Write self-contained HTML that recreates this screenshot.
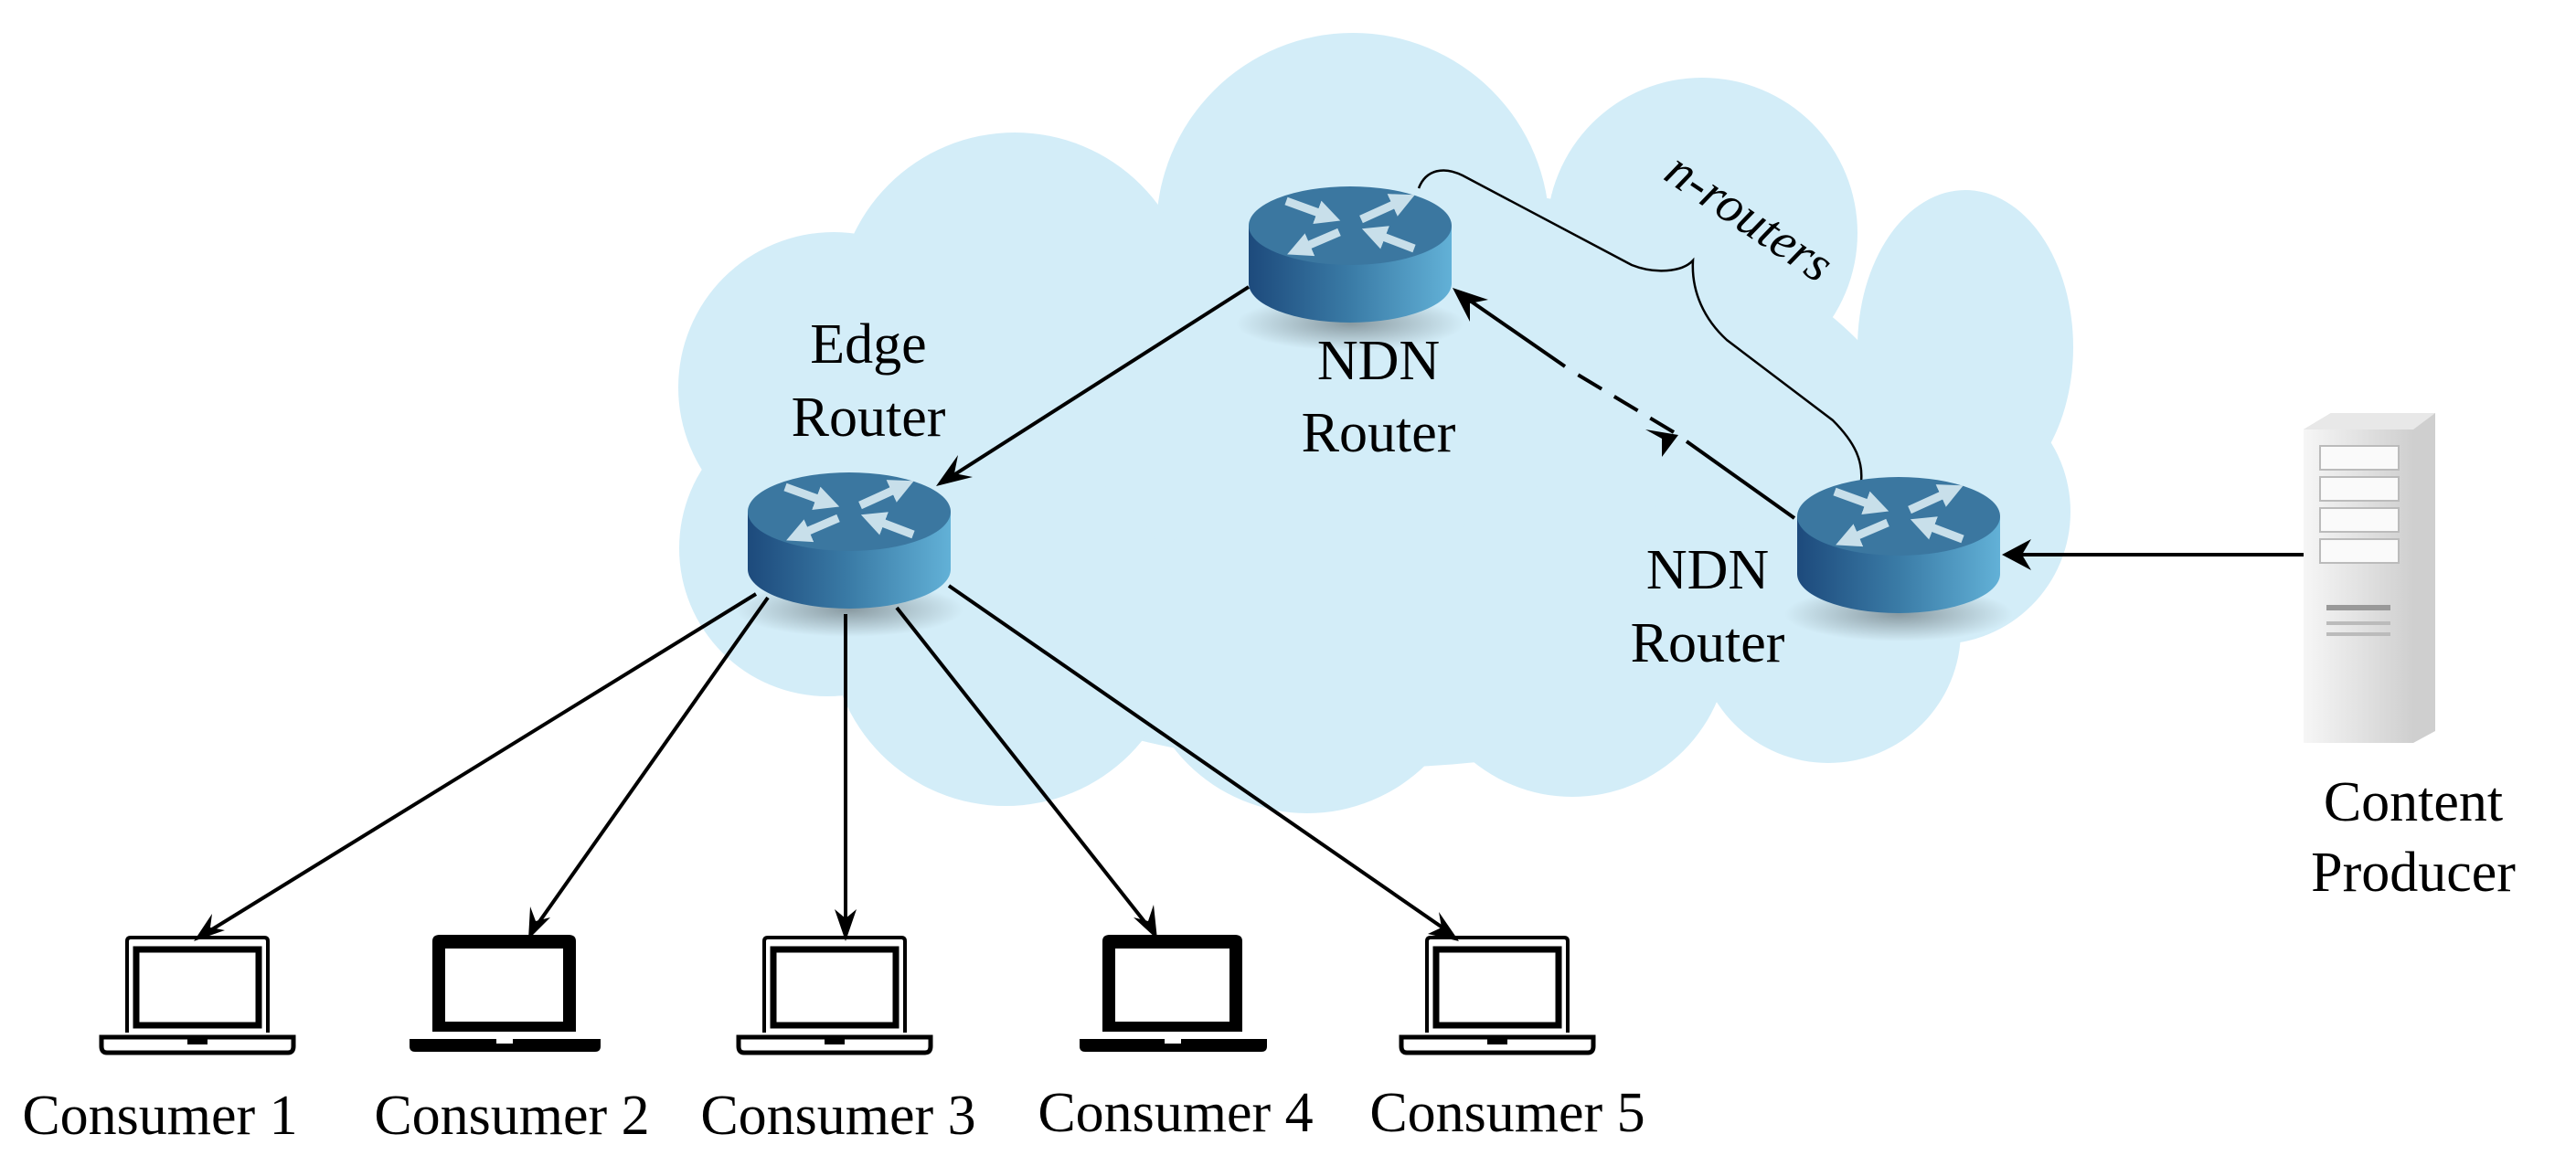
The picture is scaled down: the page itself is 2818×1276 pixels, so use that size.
<!DOCTYPE html>
<html><head><meta charset="utf-8"><style>
html,body{margin:0;padding:0;background:#fff}
svg{display:block}
text{font-family:"Liberation Serif",serif;font-size:62px;fill:#000}
</style></head><body>
<svg width="2818" height="1276" viewBox="0 0 2818 1276" xmlns="http://www.w3.org/2000/svg">
<defs>
<linearGradient id="cyl" x1="0" x2="1" y1="0" y2="0">
<stop offset="0" stop-color="#1d4a7c"/><stop offset="0.5" stop-color="#3a7ba6"/><stop offset="1" stop-color="#62b1d7"/>
</linearGradient>
<linearGradient id="srv" x1="0" x2="1"><stop offset="0" stop-color="#f6f6f6"/><stop offset="1" stop-color="#cfcfcf"/></linearGradient>
<radialGradient id="sh"><stop offset="0" stop-color="#000" stop-opacity="0.35"/><stop offset="1" stop-color="#000" stop-opacity="0"/></radialGradient>
<marker id="rh" markerWidth="3" markerHeight="3" refX="1.2" refY="1.5" orient="auto" markerUnits="strokeWidth" viewBox="0 0 3 3">
<path d="M0 0 L3 1.5 L0 3Z" fill="#c8dfea"/>
</marker>
<g id="router">
<ellipse cx="0" cy="80" rx="125" ry="30" fill="url(#sh)"/>
<path d="M-111 -27 L-111 36 A111 43 0 0 0 111 36 L111 -27 Z" fill="url(#cyl)"/>
<ellipse cx="0" cy="-27" rx="111" ry="43" fill="#3b77a0"/>
<g stroke="#c8dfea" stroke-width="9" marker-end="url(#rh)">
<line x1="-70" y1="-54" x2="-26" y2="-38"/>
<line x1="12" y1="-34" x2="56" y2="-54"/>
<line x1="-12" y1="-20" x2="-54" y2="-2"/>
<line x1="70" y1="-2" x2="28" y2="-18"/>
</g>
</g>
</defs>

<!-- cloud -->
<g fill="#d3edf8">
<ellipse cx="1500" cy="520" rx="600" ry="320"/>
<circle cx="1480" cy="251" r="215"/>
<circle cx="1862" cy="255" r="170"/>
<ellipse cx="2150" cy="380" rx="118" ry="172"/>
<circle cx="2120" cy="560" r="145"/>
<circle cx="2000" cy="690" r="145"/>
<circle cx="1720" cy="700" r="172"/>
<circle cx="1430" cy="705" r="185"/>
<circle cx="1100" cy="690" r="192"/>
<circle cx="905" cy="600" r="162"/>
<circle cx="912" cy="424" r="170"/>
<circle cx="1110" cy="340" r="195"/>
</g>

<!-- connectors -->
<g stroke="#000" stroke-width="4" fill="none">
<line x1="1366" y1="314" x2="1040" y2="522"/>
<line x1="1963" y1="567" x2="1845" y2="483"/>
<line x1="1831" y1="473" x2="1716" y2="404" stroke-dasharray="30,16"/>
<line x1="1712" y1="401" x2="1598" y2="322"/>
<line x1="2520" y1="607" x2="2200" y2="607"/>
<line x1="827" y1="650" x2="224" y2="1022"/>
<line x1="840" y1="654" x2="582" y2="1020"/>
<line x1="925" y1="672" x2="925" y2="1022"/>
<line x1="981" y1="665" x2="1261" y2="1020"/>
<line x1="1038" y1="641" x2="1588" y2="1022"/>
</g>
<g fill="#000">
<polygon points="1024,532 1048,498 1044,518 1064,522"/>
<polygon points="1589,315 1628,328 1608,332 1608,352"/>
<polygon points="1836,476 1800,470 1818,480 1818,500"/>
<polygon points="2190,607 2222,590 2212,607 2222,624"/>
<polygon points="212,1030 232,1000 230,1015 246,1018"/>
<polygon points="578,1028 580,992 586,1008 602,1004"/>
<polygon points="925,1030 913,995 925,1005 937,995"/>
<polygon points="1266,1028 1240,1004 1256,1008 1262,990"/>
<polygon points="1596,1030 1562,1022 1577,1015 1574,998"/>
</g>

<!-- brace -->
<path d="M1552 206 C1560 185 1580 182 1600 192 L1785 290 C1810 300 1840 298 1852 285 C1850 320 1865 350 1889 372 L2005 460 C2030 485 2038 505 2036 527" stroke="#000" stroke-width="2.5" fill="none"/>
<text x="0" y="0" transform="translate(1818,195) rotate(34)" font-style="italic" style="font-size:56px">n-routers</text>

<!-- routers -->
<use href="#router" x="929" y="587"/>
<use href="#router" x="1477" y="274"/>
<use href="#router" x="2077" y="592"/>

<!-- server -->
<g>
<path d="M2520 470 L2550 452 L2664 452 L2664 800 L2640 813 L2520 813 Z" fill="#cfcfcf"/>
<rect x="2520" y="470" width="120" height="343" fill="url(#srv)"/>
<path d="M2520 470 L2550 452 L2664 452 L2640 470 Z" fill="#e8e8e8"/>
<g fill="#fafafa" stroke="#bbb" stroke-width="2">
<rect x="2538" y="488" width="86" height="26"/><rect x="2538" y="522" width="86" height="26"/>
<rect x="2538" y="556" width="86" height="26"/><rect x="2538" y="590" width="86" height="26"/>
</g>
<rect x="2545" y="662" width="70" height="6" fill="#999"/>
<rect x="2545" y="680" width="70" height="4" fill="#bbb"/>
<rect x="2545" y="692" width="70" height="4" fill="#bbb"/>
</g>

<!-- laptops -->
<g stroke="#000" fill="none" stroke-width="4">
<g transform="translate(139,0)">
<path d="M0 1130 V1030 Q0 1026 4 1026 H150 Q154 1026 154 1030 V1130"/>
<rect x="10" y="1039" width="134" height="83" stroke-width="7"/>
<path d="M-28 1135 H182 V1145 Q182 1152 176 1152 H-22 Q-28 1152 -28 1145 Z" stroke-width="5"/>
<rect x="68" y="1135" width="18" height="6" fill="#000"/>
</g>
<g transform="translate(836,0)">
<path d="M0 1130 V1030 Q0 1026 4 1026 H150 Q154 1026 154 1030 V1130"/>
<rect x="10" y="1039" width="134" height="83" stroke-width="7"/>
<path d="M-28 1135 H182 V1145 Q182 1152 176 1152 H-22 Q-28 1152 -28 1145 Z" stroke-width="5"/>
<rect x="68" y="1135" width="18" height="6" fill="#000"/>
</g>
<g transform="translate(1561,0)">
<path d="M0 1130 V1030 Q0 1026 4 1026 H150 Q154 1026 154 1030 V1130"/>
<rect x="10" y="1039" width="134" height="83" stroke-width="7"/>
<path d="M-28 1135 H182 V1145 Q182 1152 176 1152 H-22 Q-28 1152 -28 1145 Z" stroke-width="5"/>
<rect x="68" y="1135" width="18" height="6" fill="#000"/>
</g>
</g>
<g fill="#000">
<g transform="translate(473,0)">
<path d="M0 1129 V1030 Q0 1023 8 1023 H149 Q157 1023 157 1030 V1129Z"/>
<rect x="14" y="1038" width="129" height="80" fill="#fff"/>
<path d="M-25 1137 H184 V1145 Q184 1151 178 1151 H-19 Q-25 1151 -25 1145Z"/>
<rect x="70" y="1137" width="18" height="5" fill="#fff"/>
</g>
<g transform="translate(1206,0)">
<path d="M0 1129 V1030 Q0 1023 8 1023 H145 Q153 1023 153 1030 V1129Z"/>
<rect x="14" y="1038" width="125" height="80" fill="#fff"/>
<path d="M-25 1137 H180 V1145 Q180 1151 174 1151 H-19 Q-25 1151 -25 1145Z"/>
<rect x="68" y="1137" width="18" height="5" fill="#fff"/>
</g>
</g>

<!-- labels -->
<g text-anchor="middle">
<text x="950" y="397">Edge</text>
<text x="950" y="477">Router</text>
<text x="1508" y="415">NDN</text>
<text x="1508" y="494">Router</text>
<text x="1868" y="644">NDN</text>
<text x="1868" y="724">Router</text>
<text x="2640" y="898">Content</text>
<text x="2640" y="975">Producer</text>
<text x="175" y="1241">Consumer 1</text>
<text x="560" y="1241">Consumer 2</text>
<text x="917" y="1241">Consumer 3</text>
<text x="1286" y="1238">Consumer 4</text>
<text x="1649" y="1238">Consumer 5</text>
</g>
</svg>
</body></html>
